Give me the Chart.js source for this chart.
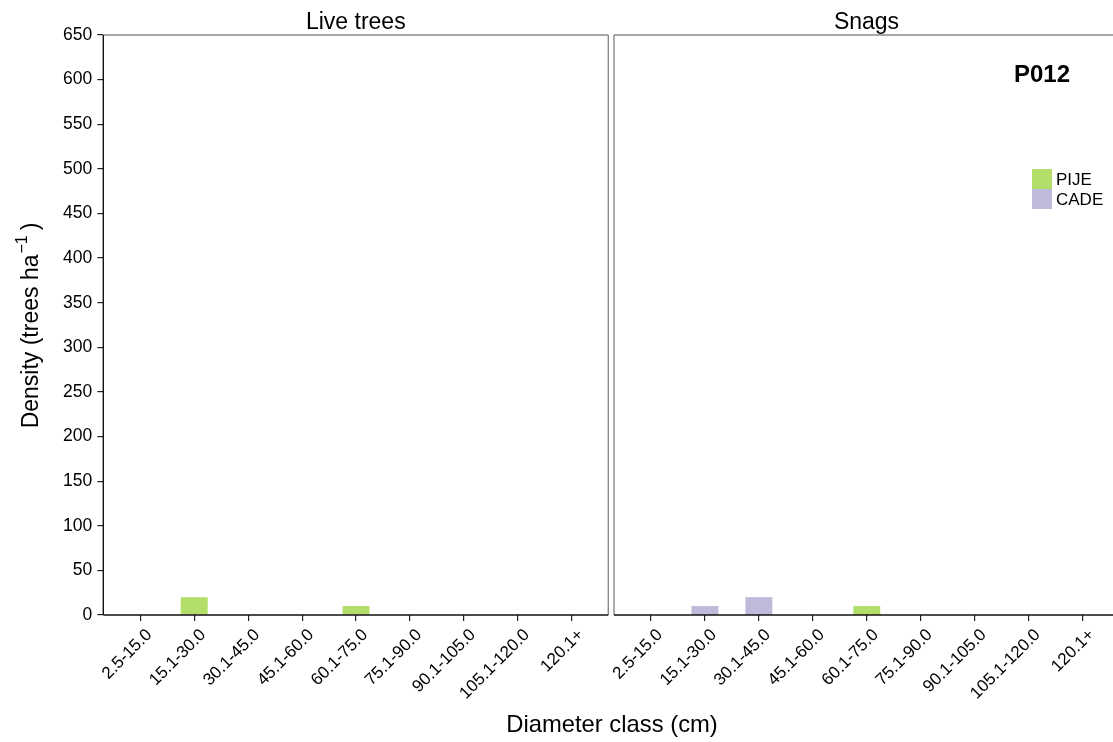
<!DOCTYPE html>
<html>
<head>
<meta charset="utf-8">
<script src="https://cdn.jsdelivr.net/npm/chart.js@4/dist/chart.umd.min.js"></script>
<style>
  html, body { margin: 0; padding: 0; background: #ffffff; width: 1113px; height: 742px; overflow: hidden; }
  canvas { position: absolute; left: 0; top: 0; }
</style>
</head>
<body>
<canvas id="liveChart" width="1125" height="742"></canvas>
<canvas id="snagChart" width="1125" height="742"></canvas>
<script>
// Diameter classes on the x axis
const diameterClasses = ['2.5-15.0', '15.1-30.0', '30.1-45.0', '45.1-60.0', '60.1-75.0',
                         '75.1-90.0', '90.1-105.0', '105.1-120.0', '120.1+'];
// Species and their fill colours
const speciesNames = ['PIJE', 'CADE'];
const speciesColors = ['#b3de69', '#bebada'];
// Density (trees/ha) per diameter class
const livePIJE = [0, 20, 0, 0, 10, 0, 0, 0, 0];
const liveCADE = [0, 0, 0, 0, 0, 0, 0, 0, 0];
const snagPIJE = [0, 0, 0, 0, 10, 0, 0, 0, 0];
const snagCADE = [0, 10, 20, 0, 0, 0, 0, 0, 0];
// y-axis tick values
const densityTicks = [0, 50, 100, 150, 200, 250, 300, 350, 400, 450, 500, 550, 600, 650];
const panelTitles = ['Live trees', 'Snags'];
const plotId = 'P012';
const xTitle = 'Diameter class (cm)';

const FONT = '"Liberation Sans", Arial, Helvetica, sans-serif';
const TOP = 35, BOTTOM = 615, CANVAS_W = 1125, CANVAS_H = 742;

function toPoints(values) {
  return values.map((v, i) => ({ x: i, y: v }));
}

function makeDatasets(pije, cade) {
  return [pije, cade].map((vals, k) => ({
    label: speciesNames[k],
    data: toPoints(vals),
    backgroundColor: speciesColors[k],
    borderWidth: 0,
    barPercentage: 0.5,
    categoryPercentage: 1.0
  }));
}

// Panel frame and strip title
const panelPlugin = {
  id: 'panelFrame',
  afterDraw(chart, args, opts) {
    const { ctx, chartArea: a } = chart;
    ctx.save();
    ctx.strokeStyle = '#8a8a8a';
    ctx.lineWidth = 1.4;
    ctx.beginPath();
    ctx.moveTo(a.left, a.top); ctx.lineTo(a.right, a.top);
    ctx.moveTo(a.right, a.top); ctx.lineTo(a.right, a.bottom);
    if (opts.leftGrey) { ctx.moveTo(a.left, a.top); ctx.lineTo(a.left, a.bottom); }
    ctx.stroke();
    // axis lines
    ctx.strokeStyle = '#111';
    ctx.lineWidth = 1.4;
    ctx.beginPath();
    ctx.moveTo(a.left, a.bottom); ctx.lineTo(a.right, a.bottom);
    if (!opts.leftGrey) { ctx.moveTo(a.left, a.top); ctx.lineTo(a.left, a.bottom); }
    ctx.stroke();
    // strip title
    ctx.fillStyle = '#000';
    ctx.font = '23px ' + FONT;
    ctx.textAlign = 'center';
    ctx.textBaseline = 'alphabetic';
    ctx.fillText(opts.title, (a.left + a.right) / 2, 29);
    ctx.restore();
  }
};

// Axis titles (left chart)
const axisTitlePlugin = {
  id: 'axisTitles',
  afterDraw(chart, args, opts) {
    if (!opts.enabled) return;
    const { ctx } = chart;
    ctx.save();
    ctx.fillStyle = '#000';
    ctx.textBaseline = 'alphabetic';
    // x title, centred on both panels
    ctx.font = '23.8px ' + FONT;
    ctx.textAlign = 'center';
    ctx.fillText(xTitle, 612, 732);
    // y title with superscript
    ctx.translate(38, 326);
    ctx.rotate(-Math.PI / 2);
    ctx.textAlign = 'left';
    const main = 'Density (trees ha';
    const sup = '\u22121';
    const tail = ')';
    const gap = 5;
    ctx.font = '23px ' + FONT;
    const w1 = ctx.measureText(main).width;
    const w3 = ctx.measureText(tail).width;
    ctx.font = '16px ' + FONT;
    const w2 = ctx.measureText(sup).width;
    let x = -(w1 + w2 + gap + w3) / 2;
    ctx.font = '23px ' + FONT;
    ctx.fillText(main, x, 0);
    x += w1 + 1;
    ctx.font = '16px ' + FONT;
    ctx.fillText(sup, x, -11);
    x += w2 + gap;
    ctx.font = '23px ' + FONT;
    ctx.fillText(tail, x, 0);
    ctx.restore();
  }
};

// Plot id and species key (right chart)
const keyPlugin = {
  id: 'speciesKey',
  afterDraw(chart, args, opts) {
    if (!opts.enabled) return;
    const { ctx } = chart;
    ctx.save();
    ctx.fillStyle = '#000';
    ctx.font = 'bold 24px ' + FONT;
    ctx.textAlign = 'left';
    ctx.textBaseline = 'alphabetic';
    ctx.fillText(plotId, 1014, 82);
    chart.data.datasets.forEach((ds, k) => {
      const y = 169 + k * 20;
      ctx.fillStyle = ds.backgroundColor;
      ctx.fillRect(1032, y, 20, 20);
      ctx.fillStyle = '#000';
      ctx.font = '17px ' + FONT;
      ctx.textBaseline = 'middle';
      ctx.fillText(ds.label, 1056, y + 11);
    });
    ctx.restore();
  }
};

function makeOptions(isLeft) {
  return {
    responsive: false,
    animation: false,
    events: [],
    layout: {
      padding: isLeft
        ? { left: 0, right: CANVAS_W - 608.3, top: TOP, bottom: 0 }
        : { left: 614, right: CANVAS_W - 1119, top: TOP, bottom: 0 }
    },
    plugins: {
      legend: { display: false },
      tooltip: { enabled: false },
      panelFrame: { title: isLeft ? panelTitles[0] : panelTitles[1], leftGrey: !isLeft },
      axisTitles: { enabled: isLeft },
      speciesKey: { enabled: !isLeft }
    },
    scales: {
      x: {
        type: 'linear',
        stacked: true,
        offset: false,
        min: -0.685,
        max: 8.675,
        afterBuildTicks(scale) { scale.ticks = diameterClasses.map((_, i) => ({ value: i })); },
        afterFit(scale) { scale.height = CANVAS_H - BOTTOM; },
        border: { display: false },
        grid: { display: true, offset: false, drawOnChartArea: false, drawTicks: true, tickLength: 6, color: '#222', lineWidth: 1.2 },
        ticks: {
          autoSkip: false,
          maxRotation: 45,
          minRotation: 45,
          padding: 4,
          labelOffset: 9,
          color: '#000',
          font: { family: FONT, size: 17 },
          callback: (v) => diameterClasses[v] ?? ''
        }
      },
      y: {
        display: isLeft,
        stacked: true,
        min: 0,
        max: 650,
        afterBuildTicks(scale) { scale.ticks = densityTicks.map(v => ({ value: v })); },
        afterFit(scale) { if (isLeft) scale.width = 103.3; },
        border: { display: false },
        grid: { display: true, drawOnChartArea: false, drawTicks: true, tickLength: 6, color: '#222', lineWidth: 1.2 },
        ticks: {
          padding: 5,
          color: '#000',
          font: { family: FONT, size: 17.5 }
        }
      }
    }
  };
}

new Chart(document.getElementById('liveChart'), {
  type: 'bar',
  data: { datasets: makeDatasets(livePIJE, liveCADE) },
  options: makeOptions(true),
  plugins: [panelPlugin, axisTitlePlugin]
});

new Chart(document.getElementById('snagChart'), {
  type: 'bar',
  data: { datasets: makeDatasets(snagPIJE, snagCADE) },
  options: makeOptions(false),
  plugins: [panelPlugin, keyPlugin]
});
</script>
</body>
</html>
